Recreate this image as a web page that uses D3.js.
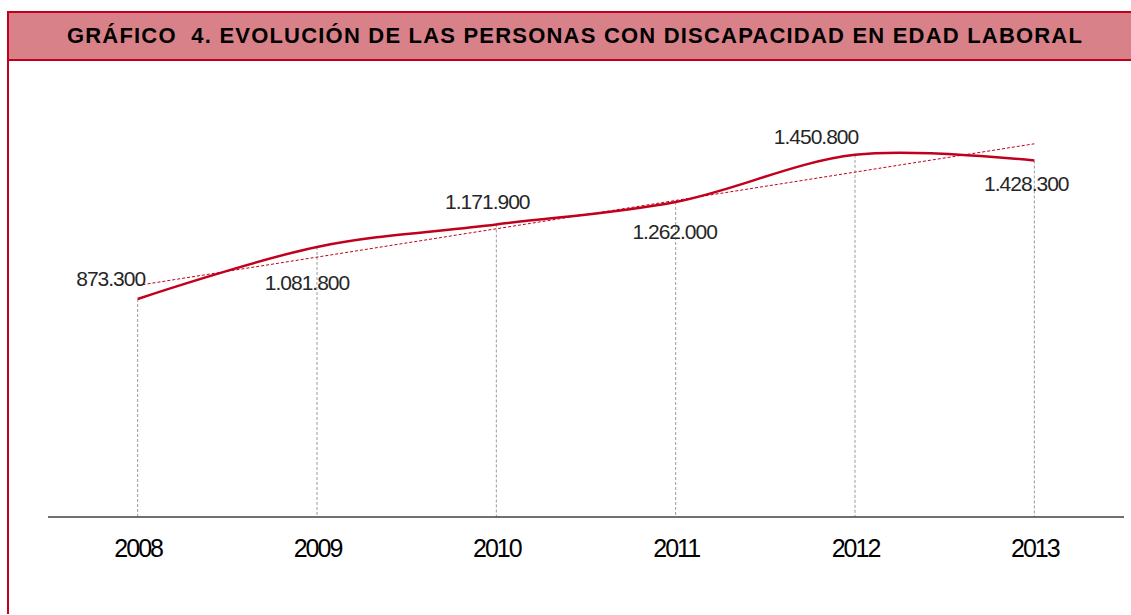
<!DOCTYPE html>
<html>
<head>
<meta charset="utf-8">
<script src="https://cdn.jsdelivr.net/npm/d3@7"></script>
<style>
  body { margin: 0; background: #fff; }
  svg { display: block; font-family: Arial, "Liberation Sans", sans-serif; }
</style>
</head>
<body>
<div id="chart"></div>
<script>
var w = 1131;
var h = 615;

var years = ["2008", "2009", "2010", "2011", "2012", "2013"];
var personas = [873300, 1081800, 1171900, 1262000, 1450800, 1428300];
var etiquetas = ["873.300", "1.081.800", "1.171.900", "1.262.000", "1.450.800", "1.428.300"];

// where each label sits relative to its point (dx, dy of text centre)
var labelOff = [[-27, -20], [-10, 36], [-9, -23], [-1, 30], [-39, -18], [-8, 23]];

var red = "#c0001c";

var svg = d3
  .select("#chart")
  .append("svg")
  .attr("width", w)
  .attr("height", h);

// header box + left frame line
svg.append("rect")
  .attr("x", 8)
  .attr("y", 12)
  .attr("width", w)
  .attr("height", 48)
  .attr("fill", "#d98189")
  .attr("stroke", red)
  .attr("stroke-width", 2);

svg.append("line")
  .attr("x1", 8).attr("x2", 8)
  .attr("y1", 12).attr("y2", 614)
  .attr("stroke", red)
  .attr("stroke-width", 2);

svg.append("text")
  .attr("x", 575)
  .attr("y", 43)
  .attr("text-anchor", "middle")
  .attr("font-size", 22)
  .attr("font-weight", "bold")
  .attr("letter-spacing", 1.2)
  .attr("fill", "#000")
  .attr("xml:space", "preserve")
  .text("GRÁFICO  4. EVOLUCIÓN DE LAS PERSONAS CON DISCAPACIDAD EN EDAD LABORAL");

var x = d3
  .scalePoint()
  .domain(years)
  .range([48, 1124])
  .padding(0.5);

var y = d3
  .scaleLinear()
  .domain([0, 1600000])
  .range([517, 117.6]);

// drop lines
svg.append("g")
  .selectAll("line")
  .data(personas)
  .enter()
  .append("line")
  .attr("x1", function(d, i) { return x(years[i]); })
  .attr("x2", function(d, i) { return x(years[i]); })
  .attr("y1", function(d) { return y(d); })
  .attr("y2", y(0))
  .attr("stroke", "#9a9a9a")
  .attr("stroke-width", 1)
  .attr("stroke-dasharray", "3,2");

// x axis
var xAxis = d3.axisBottom(x).tickSize(0).tickPadding(22);
var gx = svg.append("g")
  .attr("transform", "translate(0," + y(0) + ")")
  .call(xAxis);
gx.select(".domain")
  .attr("d", "M48,0H1124")
  .attr("stroke", "#404040")
  .attr("stroke-width", 1.5);
gx.selectAll(".tick text")
  .attr("font-family", "Arial, 'Liberation Sans', sans-serif")
  .attr("font-size", 25)
  .attr("letter-spacing", -2)
  .attr("fill", "#000");

// linear trend (least squares over the points)
var n = personas.length;
var mx = d3.mean(personas, function(d, i) { return i; });
var my = d3.mean(personas);
var sxy = d3.sum(personas, function(d, i) { return (i - mx) * (d - my); });
var sxx = d3.sum(personas, function(d, i) { return (i - mx) * (i - mx); });
var slope = sxy / sxx;
var icpt = my - slope * mx;

svg.append("line")
  .attr("x1", x(years[0]))
  .attr("y1", y(icpt))
  .attr("x2", x(years[n - 1]))
  .attr("y2", y(icpt + slope * (n - 1)))
  .attr("stroke", red)
  .attr("stroke-width", 1)
  .attr("stroke-dasharray", "3,2");

// smoothed series line
var line = d3
  .line()
  .x(function(d, i) { return x(years[i]); })
  .y(function(d) { return y(d); })
  .curve(d3.curveCatmullRom.alpha(0.5));

svg.append("path")
  .datum(personas)
  .attr("d", line)
  .attr("fill", "none")
  .attr("stroke", red)
  .attr("stroke-width", 2.5);

// data labels
svg.append("g")
  .selectAll("text")
  .data(etiquetas)
  .enter()
  .append("text")
  .attr("x", function(d, i) { return x(years[i]) + labelOff[i][0]; })
  .attr("y", function(d, i) { return y(personas[i]) + labelOff[i][1]; })
  .attr("dy", "0.35em")
  .attr("text-anchor", "middle")
  .attr("font-size", 21)
  .attr("letter-spacing", -1)
  .attr("fill", "#262626")
  .text(function(d) { return d; });
</script>
</body>
</html>
